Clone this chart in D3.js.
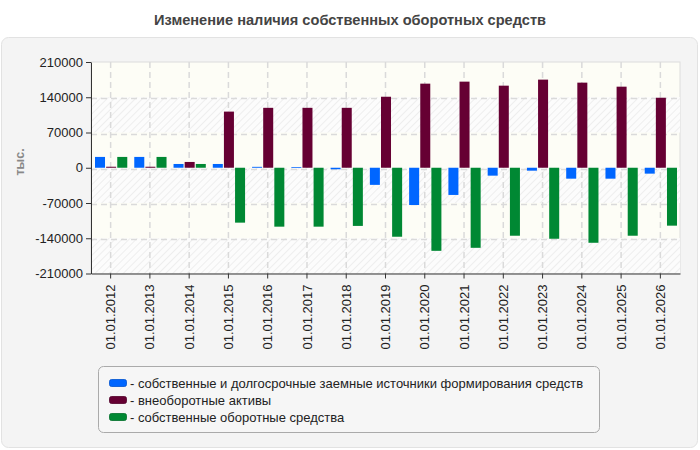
<!DOCTYPE html>
<html><head><meta charset="utf-8">
<script src="https://cdn.jsdelivr.net/npm/d3@7"></script>
<style>body{margin:0;background:#fff;}svg{display:block;font-family:"Liberation Sans",Arial,sans-serif;}</style>
</head><body>
<svg id="c" width="700" height="450"></svg>
<script>
const categories = ["01.01.2012","01.01.2013","01.01.2014","01.01.2015","01.01.2016","01.01.2017","01.01.2018","01.01.2019","01.01.2020","01.01.2021","01.01.2022","01.01.2023","01.01.2024","01.01.2025","01.01.2026"];
const seriesNames = ["- собственные и долгосрочные заемные источники формирования средств","- внеоборотные активы","- собственные оборотные средства"];
const seriesColors = ["#0066ff","#660033","#008833"];
const sourcesValues = [21500,21500,7500,7500,1800,1500,-3000,-34000,-74000,-54000,-15700,-5800,-21700,-21700,-11700];
const fixedAssetsValues = [2000,2000,11500,111500,119000,119000,119000,141000,167000,171000,163000,175000,169000,161000,139000];
const workingCapitalValues = [21500,21500,7500,-109000,-117000,-117000,-115500,-137000,-165000,-159000,-135000,-141000,-149000,-135000,-115000];
const yTicks = [210000,140000,70000,0,-70000,-140000,-210000];
const seriesValues = [sourcesValues, fixedAssetsValues, workingCapitalValues];

const svg = d3.select("#c");
const defs = svg.append("defs");
const pat = defs.append("pattern").attr("id","hatch").attr("patternUnits","userSpaceOnUse")
  .attr("width",5).attr("height",5).attr("patternTransform","rotate(45)");
pat.append("rect").attr("width",5).attr("height",5).attr("fill","#fcfcfc");
pat.append("line").attr("x1",0).attr("y1",0).attr("x2",0).attr("y2",5).attr("stroke","#ebebeb").attr("stroke-width",1.6);

// outer panel
svg.append("rect").attr("x",1.5).attr("y",37.5).attr("width",696).attr("height",410).attr("rx",7)
  .attr("fill","#f4f4f4").attr("stroke","#e2e2e2");
svg.append("text").attr("x",350).attr("y",25).attr("text-anchor","middle")
  .attr("font-size",14.6).attr("font-weight","bold").attr("fill","#444").text("Изменение наличия собственных оборотных средств");

const m = {l:91, r:680, t:62, b:273.5};
const x = d3.scaleBand().domain(categories).range([m.l, m.r]).padding(0);
const y = d3.scaleLinear().domain([-210000,210000]).range([m.b, m.t]);

// plot background
svg.append("rect").attr("x",m.l).attr("y",m.t).attr("width",m.r-m.l).attr("height",m.b-m.t).attr("fill","#fdfdf6").attr("stroke","#dcdcdc");
for (let i=0;i<yTicks.length-1;i++){
  if (i%2===1) {
    svg.append("rect").attr("x",m.l).attr("y",y(yTicks[i])).attr("width",m.r-m.l)
      .attr("height",y(yTicks[i+1])-y(yTicks[i])).attr("fill","url(#hatch)");
  }
}
// grid
svg.append("g").selectAll("line").data(yTicks.slice(1,-1)).join("line")
  .attr("x1",m.l).attr("x2",m.r).attr("y1",d=>Math.round(y(d))+1.5).attr("y2",d=>Math.round(y(d))+1.5)
  .attr("stroke","#dadada").attr("stroke-dasharray","6,4").attr("stroke-width",1.5);
svg.append("g").selectAll("line").data(categories).join("line")
  .attr("x1",d=>x(d)+x.bandwidth()/2).attr("x2",d=>x(d)+x.bandwidth()/2).attr("y1",m.t).attr("y2",m.b)
  .attr("stroke","#dadada").attr("stroke-dasharray","6,4").attr("stroke-width",1.5);

// bars
const inner = d3.scaleBand().domain([0,1,2]).range([4, x.bandwidth()-3]).paddingInner(0.1);
seriesValues.forEach((vals,si)=>{
  svg.append("g").selectAll("rect").data(vals).join("rect")
    .attr("x",(d,i)=>x(categories[i])+inner(si))
    .attr("width",inner.bandwidth())
    .attr("y",d=>Math.min(y(d),y(0)))
    .attr("height",d=>Math.abs(y(d)-y(0)))
    .attr("fill",seriesColors[si]);
});

// axes
const yAx = svg.append("g").attr("transform",`translate(${m.l},0)`)
  .call(d3.axisLeft(y).tickValues(yTicks).tickSize(5).tickSizeOuter(0).tickFormat(d=>String(d)));
yAx.selectAll("text").attr("font-size",13).attr("fill","#222").attr("font-family","Liberation Sans, Arial, sans-serif");
yAx.selectAll("line,path").attr("stroke","#333");
const xAx = svg.append("g").attr("transform",`translate(0,${m.b})`)
  .call(d3.axisBottom(x).tickSize(5).tickSizeOuter(0));
xAx.selectAll("line,path").attr("stroke","#333");
xAx.selectAll(".tick text").attr("font-size",13).attr("fill","#222").attr("font-family","Liberation Sans, Arial, sans-serif")
  .attr("transform","rotate(-90)").attr("text-anchor","end").attr("x",-11).attr("y",0).attr("dy","0.35em").attr("dx",0);

svg.append("text").attr("transform","translate(24,162) rotate(-90)").attr("text-anchor","middle")
  .attr("font-size",12.5).attr("font-weight","bold").attr("fill","#888").text("тыс.");

// legend
svg.append("rect").attr("x",98.5).attr("y",366.5).attr("width",501).attr("height",66).attr("rx",5)
  .attr("fill","#f6f6f6").attr("stroke","#aaa");
const lg = svg.append("g").selectAll("g").data(seriesNames).join("g")
  .attr("transform",(d,i)=>`translate(109,${383+i*17})`);
lg.append("rect").attr("x",0.5).attr("y",-3.5).attr("width",17).attr("height",7).attr("rx",2)
  .attr("fill",(d,i)=>seriesColors[i]).attr("stroke",(d,i)=>d3.color(seriesColors[i]).darker(0.6)).attr("stroke-width",0.8);
lg.append("text").attr("x",21).attr("y",4.5).attr("font-size",13).attr("fill","#222").text(d=>d);
</script>
</body></html>
